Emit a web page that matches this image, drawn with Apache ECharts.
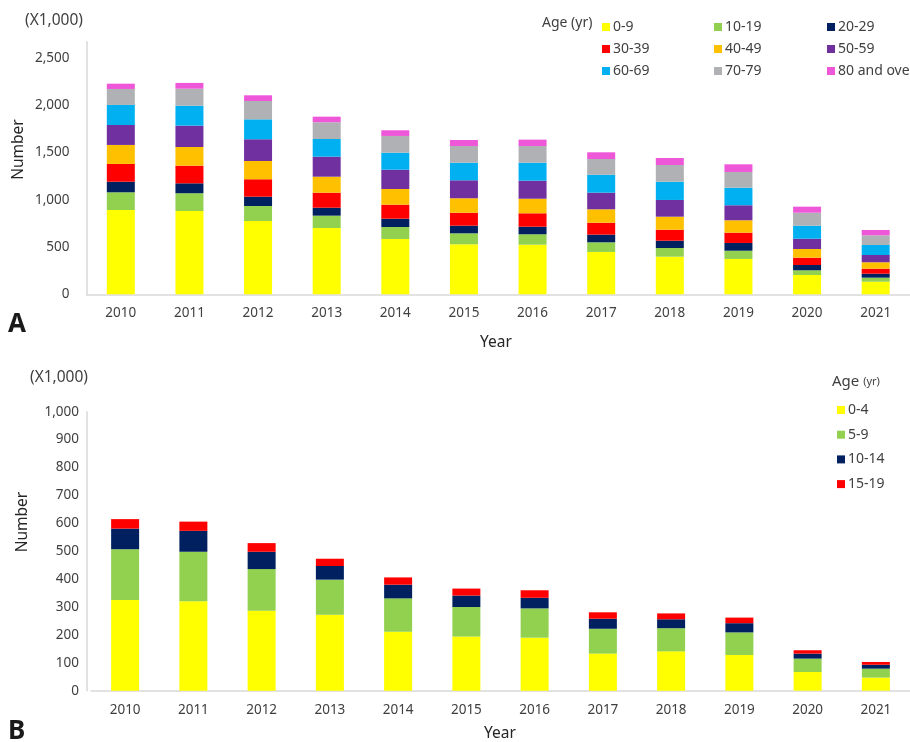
<!DOCTYPE html>
<html>
<head>
<meta charset="utf-8">
<script src="https://cdn.jsdelivr.net/npm/echarts@6/dist/echarts.min.js"></script>
<style>
	html, body { margin: 0; padding: 0; background: #fff; }
	#chart-box { width: 910px; height: 742px; }
</style>
</head>
<body>
<div id="chart-box"></div>
<script>
var years = ["2010", "2011", "2012", "2013", "2014", "2015", "2016", "2017", "2018", "2019", "2020", "2021"];

// panel A, all ages (x1,000)
var ageA = ["0-9", "10-19", "20-29", "30-39", "40-49", "50-59", "60-69", "70-79", "80 and over"];
var a0_9 = [892, 881, 775, 701, 585, 529, 525, 448, 398, 374, 204, 133];
var a10_19 = [187, 188, 159, 131, 127, 116, 110, 102, 92, 87, 50, 43];
var a20_29 = [112, 105, 99, 84, 88, 81, 80, 81, 77, 82, 56, 42];
var a30_39 = [188, 187, 184, 159, 148, 137, 142, 126, 116, 109, 77, 53];
var a40_49 = [201, 197, 193, 169, 166, 153, 154, 142, 138, 131, 92, 68];
var a50_59 = [211, 226, 230, 212, 204, 190, 191, 176, 177, 159, 109, 77];
var a60_69 = [212, 211, 211, 187, 180, 186, 190, 190, 193, 186, 138, 106];
var a70_79 = [169, 180, 194, 177, 177, 177, 177, 166, 177, 166, 137, 102];
var a80 = [56, 61, 60, 59, 60, 63, 67, 71, 74, 81, 64, 56];

// panel B, under 20 (x1,000)
var ageB = ["0-4", "5-9", "10-14", "15-19"];
var b0_4 = [325, 321, 287, 272, 211, 194, 190, 133, 141, 128, 67, 47];
var b5_9 = [182, 177, 149, 126, 120, 106, 105, 89, 83, 81, 48, 32];
var b10_14 = [74, 75, 62, 49, 49, 41, 38, 36, 32, 33, 18, 14];
var b15_19 = [34, 33, 31, 26, 26, 25, 27, 23, 21, 20, 12, 10];

var colorsA = ["#FFFF00", "#92D050", "#002060", "#FF0000", "#FFC000", "#7030A0", "#00B0F0", "#B0B1B4", "#EE57D8"];
var colorsB = ["#FFFF00", "#92D050", "#002060", "#FF0000"];

var font = "'Noto Sans', 'Open Sans', sans-serif";
var labelColor = "#404040";
var lineColor = "#D9D9D9";

var chart = echarts.init(document.getElementById("chart-box"));

var dataA = [a0_9, a10_19, a20_29, a30_39, a40_49, a50_59, a60_69, a70_79, a80];
var dataB = [b0_4, b5_9, b10_14, b15_19];

var series = [];
ageA.forEach(function (name, i) {
	series.push({
		name: name,
		type: "bar",
		stack: "A",
		xAxisIndex: 0,
		yAxisIndex: 0,
		barWidth: 28,
		itemStyle: { color: colorsA[i] },
		data: dataA[i]
	});
});
ageB.forEach(function (name, i) {
	series.push({
		name: name,
		type: "bar",
		stack: "B",
		xAxisIndex: 1,
		yAxisIndex: 1,
		barWidth: 28,
		itemStyle: { color: colorsB[i] },
		data: dataB[i]
	});
});

function legendColumn(names, left, top, gap) {
	return {
		orient: "vertical",
		left: left,
		top: top,
		padding: 0,
		itemWidth: 8,
		itemHeight: 8,
		itemGap: gap,
		icon: "rect",
		selectedMode: false,
		data: names,
		textStyle: {
			fontFamily: font,
			fontSize: 14,
			color: labelColor,
			padding: [0, 0, 0, -2]
		}
	};
}

function text(x, y, str, size, opts) {
	opts = opts || {};
	return {
		type: "text",
		x: x,
		y: y,
		rotation: opts.rotation || 0,
		style: {
			text: str,
			font: (opts.weight || "normal") + " " + size + "px " + font,
			fill: opts.color || labelColor,
			align: opts.align || "center",
			verticalAlign: "middle",
			rich: opts.rich
		}
	};
}

var option = {
	animation: false,
	textStyle: { fontFamily: font },
	grid: [
		{ left: 86.5, right: -6, top: 41.7, bottom: 447.7 },
		{ left: 91, right: -7, top: 411.7, bottom: 51.3 }
	],
	legend: [
		legendColumn(["0-9", "30-39", "60-69"], 602, 20, 8),
		legendColumn(["10-19", "40-49", "70-79"], 714, 20, 8),
		legendColumn(["20-29", "50-59", "80 and over"], 827, 20, 8),
		legendColumn(ageB, 837, 403, 10.7)
	],
	xAxis: [0, 1].map(function (i) {
		return {
			type: "category",
			gridIndex: i,
			data: years,
			axisLine: { lineStyle: { color: lineColor, width: 1.5 } },
			axisTick: { show: false },
			axisLabel: { color: labelColor, fontSize: 13.5, margin: 12 }
		};
	}),
	yAxis: [
		{
			type: "value",
			gridIndex: 0,
			min: 0,
			max: 2672,
			interval: 500,
			axisLine: { show: true, lineStyle: { color: lineColor, width: 1.5 } },
			axisTick: { show: false },
			splitLine: { show: false },
			axisLabel: {
				color: labelColor,
				fontSize: 13.5,
				margin: 17,
				showMaxLabel: false,
				formatter: function (v) {
					return v.toLocaleString("en-US");
				}
			}
		},
		{
			type: "value",
			gridIndex: 1,
			min: 0,
			max: 1000,
			interval: 100,
			offset: 4,
			axisLine: { show: true, lineStyle: { color: lineColor, width: 1.5 } },
			axisTick: { show: false },
			splitLine: { show: false },
			axisLabel: {
				color: labelColor,
				fontSize: 13.5,
				margin: 8,
				formatter: function (v) {
					return v.toLocaleString("en-US");
				}
			}
		}
	],
	graphic: [
		text(54, 20.7, "(X1,000)", 15.5),
		text(18.3, 149.5, "Number", 15.5, { rotation: Math.PI / 2, color: "#262626" }),
		text(496, 343, "Year", 15.5, { color: "#262626" }),
		text(8, 324.5, "A", 26, { align: "left", weight: "bold", color: "#1a1a1a" }),
		text(542, 22.7, "Age (yr)", 14, { align: "left" }),

		text(59, 378, "(X1,000)", 15.5),
		text(22.7, 522, "Number", 15.5, { rotation: Math.PI / 2, color: "#262626" }),
		text(500, 734, "Year", 15.5, { color: "#262626" }),
		text(8, 731.5, "B", 26, { align: "left", weight: "bold", color: "#1a1a1a" }),
		text(832, 381.7, "{a|Age} {b|(yr)}", 15, {
			align: "left",
			rich: {
				a: { fontSize: 15, fontFamily: font, fill: labelColor, color: labelColor },
				b: { fontSize: 11, fontFamily: font, fill: labelColor, color: labelColor }
			}
		})
	],
	series: series
};

chart.setOption(option);
</script>
</body>
</html>
